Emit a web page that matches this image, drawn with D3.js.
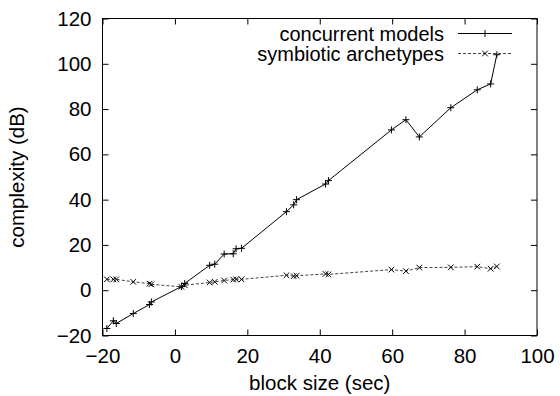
<!DOCTYPE html>
<meta charset="utf-8">
<style>

body {
  margin: 0;
  background: #fff;
}

text {
  font-family: "Liberation Sans", Arial, Helvetica, sans-serif;
  font-size: 20.5px;
  fill: #000;
}

.legend text {
  font-size: 20px;
}

.frame {
  fill: none;
  stroke: #000;
  stroke-width: 1px;
}

.tick line {
  stroke: #000;
}

.concurrent {
  fill: none;
  stroke: #000;
  stroke-width: 1px;
}

.symbiotic {
  fill: none;
  stroke: #444;
  stroke-width: 1px;
  stroke-dasharray: 3,2;
}

.mark {
  stroke: #000;
  stroke-width: 1px;
  fill: none;
}

</style>
<svg width=560 height=396></svg>
<script src='https://cdnjs.cloudflare.com/ajax/libs/d3/7.8.5/d3.min.js'></script>
<script>

// block size (sec), shared by both series
const blockSize = [-18.8, -17.0, -16.2, -11.5, -7.0, -6.5, 1.8, 2.7, 9.6, 11.0, 13.6, 16.1, 16.9, 18.4,
                   30.8, 32.8, 33.6, 41.6, 42.4, 59.8, 63.8, 67.5, 76.2, 83.5, 87.2, 88.9];
const concurrentModels = [-16.9, -13.5, -14.7, -10.3, -6.3, -5.2, 1.6, 3.0, 11.0, 11.5, 16.0, 16.1, 18.3, 18.5,
                          34.7, 37.7, 40.0, 46.9, 48.4, 70.8, 75.3, 67.7, 80.6, 88.5, 91.1, 104.0];
const symbioticArchetypes = [4.8, 4.8, 4.8, 3.7, 2.9, 2.6, 1.5, 2.2, 3.4, 3.7, 4.3, 4.7, 4.8, 4.8,
                             6.6, 6.2, 6.4, 7.2, 7.0, 9.1, 8.4, 10.0, 10.1, 10.4, 9.5, 10.5];
const seriesNames = ["concurrent models", "symbiotic archetypes"];
const xTicks = [-20, 0, 20, 40, 60, 80, 100];
const yTicks = [-20, 0, 20, 40, 60, 80, 100, 120];

const margin = {top: 18.5, right: 23, bottom: 60.5, left: 102.5};
const width = 560;
const height = 396;
const tickLen = 6;
const markSize = 3.5;

let svg = d3.select("svg");

let x = d3.scaleLinear().domain([-20, 100]).range([margin.left, width - margin.right]);
let y = d3.scaleLinear().domain([-20, 120]).range([height - margin.bottom, margin.top]);

// inward ticks on all four sides (mirrored)
svg.append("g")
    .attr("transform", "translate(0," + y(-20) + ")")
    .call(d3.axisBottom(x).tickValues(xTicks).tickSizeInner(-tickLen).tickSizeOuter(0).tickPadding(12.5))
    .call(g => g.select(".domain").remove())
    .call(g => g.selectAll("text").attr("font-size", null).attr("font-family", null));

svg.append("g")
    .attr("transform", "translate(0," + y(120) + ")")
    .call(d3.axisTop(x).tickValues(xTicks).tickSizeInner(-tickLen).tickSizeOuter(0).tickFormat(""))
    .call(g => g.select(".domain").remove());

svg.append("g")
    .attr("transform", "translate(" + x(-20) + ",0)")
    .call(d3.axisLeft(y).tickValues(yTicks).tickSizeInner(-tickLen).tickSizeOuter(0).tickPadding(11))
    .call(g => g.select(".domain").remove())
    .call(g => g.selectAll("text").attr("font-size", null).attr("font-family", null));

svg.append("g")
    .attr("transform", "translate(" + x(100) + ",0)")
    .call(d3.axisRight(y).tickValues(yTicks).tickSizeInner(-tickLen).tickSizeOuter(0).tickFormat(""))
    .call(g => g.select(".domain").remove());

svg.append("rect")
    .attr("class", "frame")
    .attr("x", x(-20))
    .attr("y", y(120))
    .attr("width", x(100) - x(-20))
    .attr("height", y(-20) - y(120));

// axis titles
svg.append("text")
    .attr("x", (x(-20) + x(100)) / 2)
    .attr("y", 389.5)
    .attr("text-anchor", "middle")
    .text("block size (sec)");

svg.append("text")
    .attr("transform", "translate(24," + (y(-20) + y(120)) / 2 + ") rotate(-90)")
    .attr("text-anchor", "middle")
    .text("complexity (dB)");

function plusPath(px, py) {
  return "M" + (px - markSize) + "," + py + "H" + (px + markSize) +
         "M" + px + "," + (py - markSize) + "V" + (py + markSize);
}

function crossPath(px, py) {
  const s = markSize * 0.8;
  return "M" + (px - s) + "," + (py - s) + "L" + (px + s) + "," + (py + s) +
         "M" + (px - s) + "," + (py + s) + "L" + (px + s) + "," + (py - s);
}

const series = [
  {name: seriesNames[0], values: concurrentModels, cls: "concurrent", mark: plusPath},
  {name: seriesNames[1], values: symbioticArchetypes, cls: "symbiotic", mark: crossPath}
];

let line = d3.line()
    .x(d => x(d[0]))
    .y(d => y(d[1]));

// legend
const legendRight = 444;
const legendLine = [458, 512];
let legend = svg.append("g").attr("class", "legend");
series.forEach((s, i) => {
  const ly = 33.5 + i * 20;
  legend.append("text")
      .attr("x", legendRight)
      .attr("y", ly)
      .attr("dy", "0.35em")
      .attr("text-anchor", "end")
      .text(s.name);
  legend.append("path")
      .attr("class", s.cls)
      .attr("d", "M" + legendLine[0] + "," + ly + "H" + legendLine[1]);
  legend.append("path")
      .attr("class", "mark")
      .attr("d", s.mark((legendLine[0] + legendLine[1]) / 2, ly));
});

series.forEach(s => {
  const pts = blockSize.map((b, i) => [b, s.values[i]]);
  svg.append("path")
      .attr("class", s.cls)
      .attr("d", line(pts));
  svg.append("g").selectAll("path")
    .data(pts)
    .enter().append("path")
      .attr("class", "mark")
      .attr("d", d => s.mark(x(d[0]), y(d[1])));
});

</script>
